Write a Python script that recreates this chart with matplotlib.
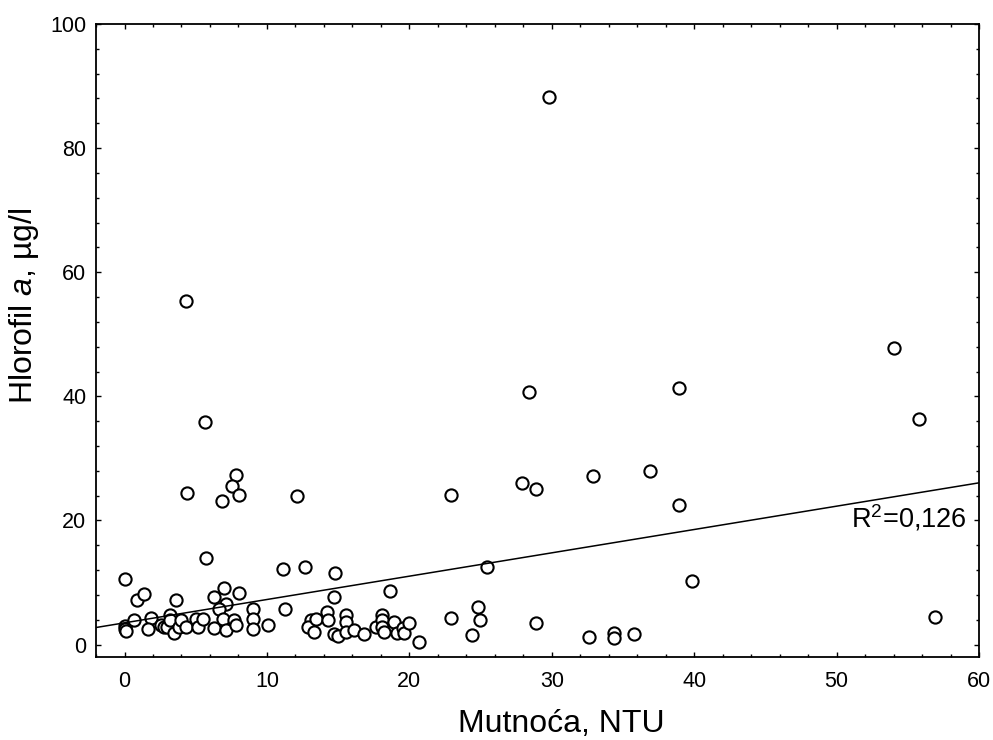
"""Scatter of chlorophyll a against turbidity with a linear fit line."""

import matplotlib

matplotlib.use("Agg")
import matplotlib.pyplot as plt
import numpy as np
from matplotlib.ticker import MultipleLocator

# turbidity (NTU) and chlorophyll a (ug/l)
TURBIDITY = [
    29.8, 4.35, 5.68, 28.4, 38.9, 54.0, 55.8,
    7.84, 7.55, 8.07, 4.37, 6.88, 12.1,
    22.95, 27.9, 28.9, 32.9, 36.9, 38.9,
    5.75, 0.0, 0.89, 1.4, 3.6, 6.97, 6.3, 8.07, 7.1, 6.6,
    9.0, 9.0, 9.0, 10.1, 0.0, 0.0, 0.1, 0.65, 1.87, 1.64, 2.57,
    2.75, 3.0, 3.16, 3.2, 3.5, 3.86, 3.98, 4.33, 5.03, 5.15, 5.5,
    6.3, 6.9, 7.1, 7.7, 7.84,
    11.16, 12.68, 14.8, 14.7, 18.65, 11.3, 13.1, 12.9, 13.3, 13.45,
    14.2, 14.27, 14.74, 15.0, 15.55, 15.55, 15.55, 16.1, 16.85, 17.66,
    18.06, 18.06, 18.06, 18.2, 18.9, 19.14, 19.53, 19.65, 20.0, 20.65,
    25.45, 39.86, 22.95, 24.85, 24.96, 24.4, 28.9, 32.6, 34.4, 34.4, 35.8,
    56.9,
]
CHLOROPHYLL = [
    88.2, 55.3, 35.9, 40.7, 41.3, 47.8, 36.3,
    27.3, 25.5, 24.1, 24.5, 23.1, 23.9,
    24.1, 26.0, 25.0, 27.1, 28.0, 22.5,
    13.9, 10.5, 7.2, 8.1, 7.2, 9.15, 7.7, 8.35, 6.5, 5.7,
    5.7, 4.1, 2.45, 3.1, 3.0, 2.45, 2.2, 3.95, 4.2, 2.45, 3.1,
    2.9, 2.9, 4.75, 3.9, 1.8, 2.8, 3.95, 2.8, 4.1, 2.8, 4.1,
    2.6, 4.1, 2.3, 3.95, 3.1,
    12.2, 12.5, 11.6, 7.7, 8.6, 5.7, 3.95, 2.8, 1.95, 4.1,
    5.2, 3.95, 1.7, 1.4, 4.75, 3.7, 2.05, 2.3, 1.7, 2.8,
    4.75, 3.95, 2.8, 1.95, 3.6, 1.8, 2.6, 1.8, 3.5, 0.35,
    12.5, 10.2, 4.2, 6.0, 3.95, 1.5, 3.4, 1.2, 1.8, 1.1, 1.75,
    4.5,
]

# fitted line as drawn in the picture
FIT_INTERCEPT = 3.5
FIT_SLOPE = 0.376
R2_LABEL = "R$^2$=0,126"

plt.rcParams["font.family"] = ["Liberation Sans", "DejaVu Sans"]
plt.rcParams["mathtext.fontset"] = "custom"
plt.rcParams["mathtext.rm"] = "Liberation Sans"
plt.rcParams["mathtext.it"] = "Liberation Sans:italic"

fig = plt.figure(figsize=(9.93, 7.40), dpi=100)
ax = fig.add_axes([0.0967, 0.1122, 0.8892, 0.8554])

ax.plot(TURBIDITY, CHLOROPHYLL, linestyle="none", marker="o", markersize=8.8,
        markerfacecolor="white", markeredgecolor="black", markeredgewidth=1.5)

xs = np.array([-2, 60])
ax.plot(xs, FIT_INTERCEPT + FIT_SLOPE * xs, color="black", linewidth=1.1)
ax.text(59.1, 20.3, R2_LABEL, ha="right", va="center", fontsize=19.5)

ax.set_xlim(-2, 60)
ax.set_ylim(-2, 100)
ax.xaxis.set_major_locator(MultipleLocator(10))
ax.xaxis.set_minor_locator(MultipleLocator(2))
ax.yaxis.set_major_locator(MultipleLocator(20))
ax.yaxis.set_minor_locator(MultipleLocator(4))
ax.tick_params(which="both", direction="in", top=True, right=True, width=1)
ax.tick_params(which="major", length=3.6, labelsize=15.5)
ax.tick_params(axis="x", which="major", pad=10)
ax.tick_params(axis="y", which="major", pad=7)
ax.tick_params(which="minor", length=2.4)
for sp in ax.spines.values():
    sp.set_linewidth(1.3)

ax.set_xlabel("Mutnoća, NTU", fontsize=23)
ax.set_ylabel("Hlorofil $a$, µg/l", fontsize=23)
ax.xaxis.set_label_coords(0.527, -0.082)
ax.yaxis.set_label_coords(-0.062, 0.554)

fig.savefig("out.png", dpi=100)
